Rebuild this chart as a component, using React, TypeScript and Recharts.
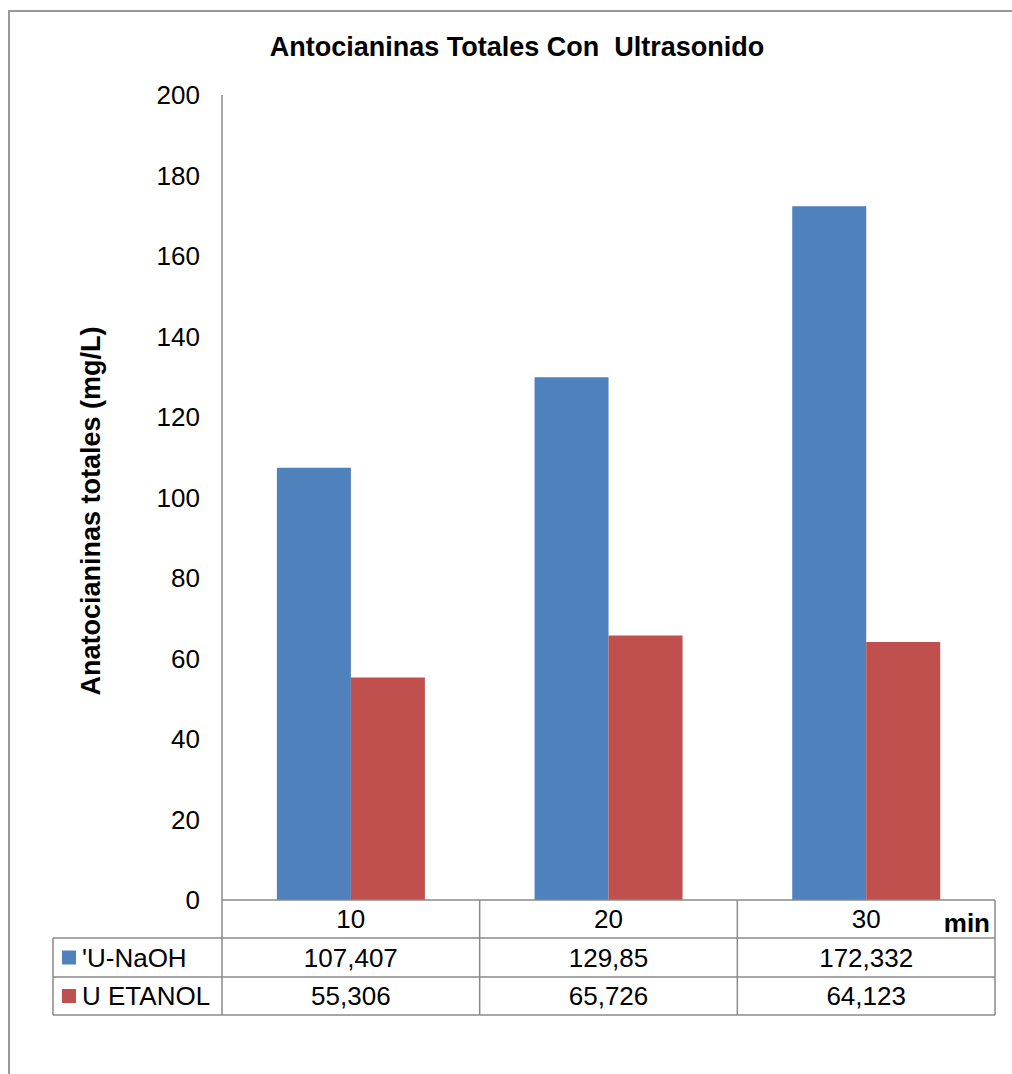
import { BarChart, Bar, XAxis, YAxis } from 'recharts';

const CATEGORIAS = ['10', '20', '30'];
const U_NAOH = [107.407, 129.85, 172.332];
const U_ETANOL = [55.306, 65.726, 64.123];
const Y_TICKS = [0, 20, 40, 60, 80, 100, 120, 140, 160, 180, 200];

const SERIES = [
  { key: 'naoh', name: "'U-NaOH", color: '#4F81BD', values: U_NAOH },
  { key: 'etanol', name: 'U ETANOL', color: '#C0504D', values: U_ETANOL },
];

const data = CATEGORIAS.map((cat, i) => ({
  cat,
  naoh: U_NAOH[i],
  etanol: U_ETANOL[i],
}));

const W = 1012;
const H = 1074;
const M = { top: 95, right: 17, left: 0, bottom: 0 };
const X_AXIS_H = 174;
const Y_AXIS_W = 222;
const BAND = (W - Y_AXIS_W - M.right) / CATEGORIAS.length;
const ROW = [900, 938, 977, 1015];
const LEGEND_LEFT = 53;
const GRID = '#8a8a8a';
const FONT = '"Liberation Sans", Arial, sans-serif';
const FS = 26;

const fmt = (v: number) => String(v).replace('.', ',');

function TableTick(props: any) {
  const { x, payload, index } = props;
  const l = x - BAND / 2;
  const r = x + BAND / 2;
  const mid = (a: number, b: number) => (a + b) / 2;
  return (
    <g fontFamily={FONT} fontSize={FS} fill="#000">
      {/* cell borders */}
      <line x1={r} x2={r} y1={ROW[0]} y2={ROW[3]} stroke={GRID} strokeWidth={1.5} />
      {index === 0 && <line x1={l} x2={l} y1={ROW[0]} y2={ROW[3]} stroke={GRID} strokeWidth={1.5} />}
      {[1, 2, 3].map((k) => (
        <line key={k} x1={l} x2={r} y1={ROW[k]} y2={ROW[k]} stroke={GRID} strokeWidth={1.5} />
      ))}
      <text x={x} y={mid(ROW[0], ROW[1])} textAnchor="middle" dominantBaseline="central">
        {payload.value}
      </text>
      {SERIES.map((s, si) => (
        <text
          key={s.key}
          x={x}
          y={mid(ROW[si + 1], ROW[si + 2])}
          textAnchor="middle"
          dominantBaseline="central"
        >
          {fmt(s.values[index])}
        </text>
      ))}
      {index === CATEGORIAS.length - 1 && (
        <text x={r - 5} y={mid(ROW[0], ROW[1]) + 4} textAnchor="end" dominantBaseline="central" fontWeight="bold">
          min
        </text>
      )}
      {index === 0 && (
        <g>
          {[1, 2, 3].map((k) => (
            <line key={k} x1={LEGEND_LEFT} x2={l} y1={ROW[k]} y2={ROW[k]} stroke={GRID} strokeWidth={1.5} />
          ))}
          <line x1={LEGEND_LEFT} x2={LEGEND_LEFT} y1={ROW[1]} y2={ROW[3]} stroke={GRID} strokeWidth={1.5} />
          {SERIES.map((s, si) => {
            const cy = mid(ROW[si + 1], ROW[si + 2]);
            return (
              <g key={s.key}>
                <rect x={62} y={cy - 7} width={14} height={14} fill={s.color} />
                <text x={82} y={cy} dominantBaseline="central">
                  {s.name}
                </text>
              </g>
            );
          })}
        </g>
      )}
    </g>
  );
}

export default function App() {
  return (
    <div
      style={{
        position: 'absolute',
        left: 0,
        top: 0,
        width: W,
        height: H,
        overflow: 'hidden',
        background: '#fff',
      }}
    >
      <div
        style={{
          position: 'absolute',
          left: 8,
          top: 10,
          width: W,
          height: H,
          borderTop: '2px solid #999',
          borderLeft: '2px solid #999',
        }}
      />
      <div style={{ position: 'absolute', left: 0, top: 0 }}>
        <BarChart
          width={W}
          height={H}
          data={data}
          margin={M}
          barCategoryGap="21.3%"
          barGap={0}
        >
          <text
            x={517}
            y={47}
            textAnchor="middle"
            dominantBaseline="central"
            fontFamily={FONT}
            fontWeight="bold"
            fontSize={27}
            style={{ whiteSpace: 'pre' }}
          >
            Antocianinas Totales Con  Ultrasonido
          </text>
          <text
            x={91}
            y={511}
            transform="rotate(-90 91 511)"
            textAnchor="middle"
            dominantBaseline="central"
            fontFamily={FONT}
            fontWeight="bold"
            fontSize={27}
          >
            Anatocianinas totales (mg/L)
          </text>
          <XAxis
            dataKey="cat"
            axisLine={{ stroke: GRID, strokeWidth: 1.5 }}
            tickLine={false}
            tickSize={0}
            height={X_AXIS_H}
            interval={0}
            tick={<TableTick />}
          />
          <YAxis
            width={Y_AXIS_W}
            domain={[0, 200]}
            ticks={Y_TICKS}
            interval={0}
            axisLine={{ stroke: GRID, strokeWidth: 1.5 }}
            tickLine={false}
            tickSize={0}
            tickMargin={22}
            tick={{ fontFamily: FONT, fontSize: FS, fill: '#000' }}
          />
          {SERIES.map((s) => (
            <Bar key={s.key} dataKey={s.key} name={s.name} fill={s.color} isAnimationActive={false} />
          ))}
        </BarChart>
      </div>
    </div>
  );
}
